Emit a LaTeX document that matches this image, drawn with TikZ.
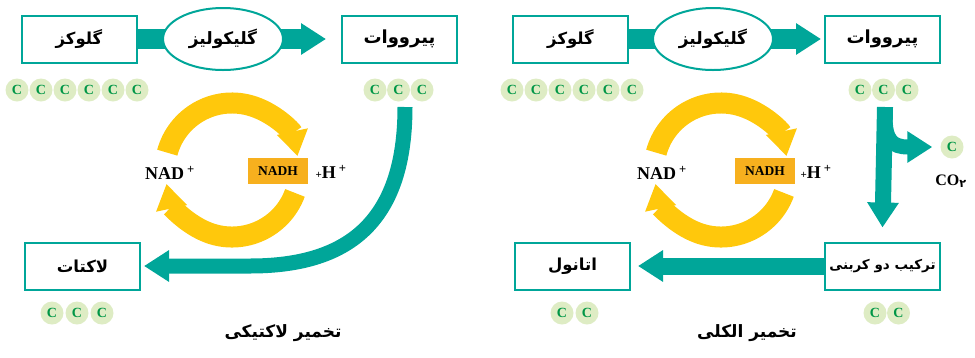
\documentclass[tikz,border=0pt]{standalone}
\usepackage{fontspec}
\usepackage{tikz}
\usetikzlibrary{arrows.meta,shapes.geometric,backgrounds}
\TeXXeTstate=1
\setmainfont{Liberation Serif}
\newfontfamily\farsi[Script=Arabic]{DejaVu Sans}
\newcommand{\fatext}[1]{{\farsi\bfseries\beginR #1\endR}}
\definecolor{fermTeal}{RGB}{0,166,153}
\definecolor{cycleYellow}{RGB}{255,200,12}
\definecolor{nadhOrange}{RGB}{247,176,30}
\definecolor{carbonFill}{RGB}{222,236,196}
\definecolor{carbonText}{RGB}{0,150,70}

\begin{document}
\begin{tikzpicture}[x=1pt,y=-1pt]
  \tikzstyle{compoundBox} = [draw=fermTeal, line width=2pt, fill=white, rectangle, minimum width=115pt, minimum height=47pt, inner sep=0pt, font={\fontsize{16.5}{18}\selectfont}]
  \tikzstyle{processOval} = [draw=fermTeal, line width=2pt, fill=white, ellipse, minimum width=120pt, minimum height=62pt, inner sep=0pt, font={\fontsize{17}{18}\selectfont}]
  \tikzstyle{carbonAtom} = [circle, fill=carbonFill, minimum size=23pt, inner sep=0pt, text=carbonText, font={\bfseries\fontsize{14}{14}\selectfont}]
  \tikzstyle{flowArrow} = [fermTeal, line width=17pt, -{Triangle[width=30pt,length=25pt]}]
  \tikzstyle{cycleArrow} = [cycleYellow, line width=21pt, -{Triangle[width=30pt,length=25pt]}]
  \tikzstyle{cofactor} = [inner sep=0pt, font={\bfseries\fontsize{18}{18}\selectfont}]
  \tikzstyle{nadhBox} = [fill=nadhOrange, minimum width=60pt, minimum height=26pt, inner sep=0pt, font={\bfseries\fontsize{13.5}{13.5}\selectfont}]
  \tikzstyle{titleText} = [font={\fontsize{17}{20}\selectfont}]

  \useasboundingbox (0,0) rectangle (975,357);

  % lactic fermentation
  \node[compoundBox] (glucL) at (79,39) {\fatext{گلوکز}};
  \node[compoundBox, font={\fontsize{18}{18}\selectfont}] (pyrL) at (399.5,39) {\fatext{پیرووات}};
  \node[processOval] (glycL) at (223,39) {\fatext{گلیکولیز}};
  \node[compoundBox] (lactL) at (82.5,266) {\fatext{لاکتات}};
  \foreach \i in {0,...,5} \node[carbonAtom] (glucCL\i) at (17+24*\i,90) {C};
  \foreach \i in {0,1,2} \node[carbonAtom] (pyrCL\i) at (375+23.5*\i,90) {C};
  \foreach \i in {0,1,2} \node[carbonAtom] (lactCL\i) at (52+25*\i,313) {C};
  \coordinate (dropL) at (405,107);
  \coordinate (cycL) at (232,170);
  \node[cofactor] (nadL) at (170,173) {NAD\,\textsuperscript{+}};
  \node[nadhBox] (nadhL) at (278,171) {NADH};
  \node[cofactor] (hydL) at (331,172) {{\fontsize{11}{11}\selectfont +}H\,\textsuperscript{+}};
  \node[titleText] (titleL) at (283,333) {\fatext{تخمیر لاکتیکی}};

  % alcoholic fermentation
  \node[compoundBox] (glucR) at (570.5,39) {\fatext{گلوکز}};
  \node[compoundBox, font={\fontsize{18}{18}\selectfont}] (pyrR) at (882.5,39) {\fatext{پیرووات}};
  \node[processOval] (glycR) at (713,39) {\fatext{گلیکولیز}};
  \node[compoundBox, font={\fontsize{13.5}{15}\selectfont}] (twoC) at (882.5,266) {\fatext{ترکیب دو کربنی}};
  \node[compoundBox] (ethR) at (572.5,266) {\fatext{اتانول}};
  \foreach \i in {0,...,5} \node[carbonAtom] (glucCR\i) at (512+24*\i,90) {C};
  \foreach \i in {0,1,2} \node[carbonAtom] (pyrCR\i) at (860+23.5*\i,90) {C};
  \foreach \i in {0,1} \node[carbonAtom] (twoCR\i) at (875+23.5*\i,313) {C};
  \foreach \i in {0,1} \node[carbonAtom] (ethCR\i) at (562+25*\i,313) {C};
  \node[carbonAtom] (co2C) at (952,147) {C};
  \node[cofactor, font={\bfseries\fontsize{16}{16}\selectfont}] (co2) at (951,181) {CO\textsubscript{\farsi ۲}};
  \coordinate (dropR) at (885,107);
  \coordinate (ventR) at (885,116);
  \coordinate (cycR) at (721,170);
  \node[cofactor] (nadR) at (662,173) {NAD\,\textsuperscript{+}};
  \node[nadhBox] (nadhR) at (765,171) {NADH};
  \node[cofactor] (hydR) at (816,172) {{\fontsize{11}{11}\selectfont +}H\,\textsuperscript{+}};
  \node[titleText] (titleR) at (747,333) {\fatext{تخمیر الکلی}};

  \begin{pgfonlayer}{background}
    \draw[flowArrow, line width=20pt] (glucL.east) -- ([xshift=-15pt]pyrL.west);
    \draw[flowArrow, line width=15pt] (dropL) .. controls (405,225) and (345,266) .. (250,266) -- ([xshift=3pt]lactL.east);
    \draw[cycleArrow] ([shift={(-165:67)}]cycL) arc[start angle=-165, end angle=-12, radius=67];
    \draw[cycleArrow] ([shift={(20:67)}]cycL) arc[start angle=20, end angle=168, radius=67];

    \draw[flowArrow, line width=20pt] (glucR.east) -- ([xshift=-3pt]pyrR.west);
    \draw[flowArrow, line width=16pt] (dropR) -- ([yshift=14pt]twoC.north);
    \draw[flowArrow, line width=15pt] (ventR) .. controls (885,140) and (892,147) .. (908,147) -- ([xshift=-8pt]co2C.west);
    \draw[flowArrow] (twoC.west) -- ([xshift=7pt]ethR.east);
    \draw[cycleArrow] ([shift={(-165:67)}]cycR) arc[start angle=-165, end angle=-12, radius=67];
    \draw[cycleArrow] ([shift={(20:67)}]cycR) arc[start angle=20, end angle=168, radius=67];
  \end{pgfonlayer}
\end{tikzpicture}
\end{document}
